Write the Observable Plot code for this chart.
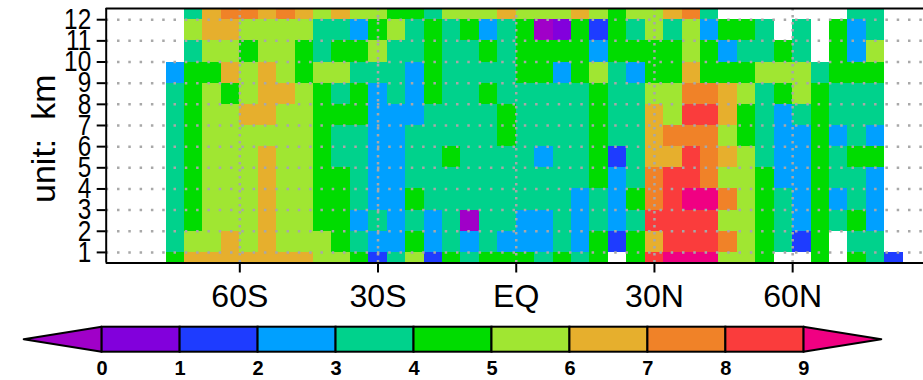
<!DOCTYPE html>
<html><head><meta charset="utf-8">
<script src="https://cdn.jsdelivr.net/npm/d3@7"></script>
<script src="https://cdn.jsdelivr.net/npm/@observablehq/plot@0.6"></script>
<style>
html,body{margin:0;padding:0;background:#fff;}
#chart{position:relative;width:923px;height:380px;overflow:hidden;background:#fff;}
#chart svg{position:absolute;left:0;}
</style></head><body><div id="chart"></div>
<script>
// latitude centres of the 4-degree columns (negative = south)
const lats = [-74,-70,-66,-62,-58,-54,-50,-46,-42,-38,-34,-30,-26,-22,-18,-14,-10,-6,-2,2,
              6,10,14,18,22,26,30,34,38,42,46,50,54,58,62,66,70,74,78,82];
// height centres (km) of the rows
const heights = [0.5,1.5,2.5,3.5,4.5,5.5,6.5,7.5,8.5,9.5,10.5,11.5,12.5];
// values (one row per height, one entry per latitude); null = missing
const values = [
 [4.5,6.5,6.5,6.5,6.5,6.5,6.5,6.5,5.5,5.5, 4.5,1.5,3.5,5.5,1.5,4.5,3.5,4.5,4.5,4.5, 3.5,4.5,3.5,4.5,null,4.5,8.5,9.5,9.5,9.5, 5.5,5.5,4.5,null,null,4.5,null,4.5,3.5,1.5],
 [3.5,5.5,5.5,6.5,5.5,6.5,5.5,5.5,5.5,4.5, 3.5,2.5,2.5,4.5,2.5,3.5,2.5,3.5,2.5,2.5, 2.5,3.5,2.5,4.5,1.5,4.5,6.5,8.5,8.5,8.5, 7.5,5.5,4.5,3.5,1.5,4.5,null,3.5,3.5,null],
 [3.5,4.5,5.5,5.5,5.5,6.5,5.5,5.5,4.5,4.5, 2.5,3.5,2.5,3.5,2.5,3.5,-0.5,3.5,3.5,2.5, 2.5,3.5,2.5,3.5,2.5,3.5,8.5,8.5,8.5,8.5, 5.5,5.5,4.5,3.5,2.5,4.5,3.5,4.5,2.5,null],
 [3.5,4.5,5.5,5.5,5.5,6.5,5.5,5.5,4.5,4.5, 3.5,2.5,2.5,4.5,3.5,3.5,3.5,3.5,3.5,3.5, 3.5,3.5,2.5,3.5,2.5,4.5,7.5,8.5,9.5,9.5, 7.5,5.5,4.5,3.5,2.5,4.5,2.5,3.5,2.5,null],
 [3.5,4.5,5.5,5.5,5.5,6.5,5.5,5.5,4.5,4.5, 3.5,2.5,2.5,3.5,3.5,3.5,3.5,3.5,3.5,3.5, 3.5,3.5,3.5,4.5,2.5,3.5,7.5,8.5,8.5,7.5, 5.5,5.5,4.5,2.5,2.5,4.5,3.5,3.5,2.5,null],
 [3.5,4.5,5.5,5.5,5.5,6.5,5.5,5.5,4.5,3.5, 3.5,2.5,2.5,3.5,3.5,4.5,3.5,3.5,3.5,3.5, 2.5,3.5,3.5,4.5,1.5,3.5,6.5,6.5,8.5,7.5, 6.5,5.5,3.5,2.5,2.5,4.5,3.5,4.5,4.5,null],
 [3.5,4.5,5.5,5.5,5.5,5.5,5.5,5.5,4.5,3.5, 3.5,2.5,2.5,3.5,3.5,3.5,3.5,3.5,4.5,3.5, 3.5,3.5,3.5,4.5,3.5,3.5,6.5,7.5,7.5,7.5, 5.5,4.5,3.5,2.5,2.5,4.5,2.5,3.5,2.5,null],
 [3.5,4.5,5.5,5.5,6.5,6.5,5.5,5.5,4.5,4.5, 4.5,2.5,2.5,2.5,3.5,3.5,3.5,3.5,4.5,3.5, 3.5,3.5,3.5,4.5,3.5,3.5,6.5,5.5,8.5,8.5, 6.5,4.5,3.5,2.5,3.5,4.5,3.5,3.5,3.5,null],
 [3.5,4.5,5.5,4.5,5.5,6.5,6.5,5.5,4.5,3.5, 4.5,2.5,3.5,2.5,4.5,3.5,3.5,4.5,3.5,3.5, 3.5,3.5,3.5,4.5,3.5,3.5,5.5,5.5,7.5,7.5, 6.5,5.5,3.5,4.5,5.5,4.5,3.5,3.5,3.5,null],
 [2.5,4.5,4.5,6.5,5.5,6.5,5.5,4.5,5.5,5.5, 3.5,3.5,3.5,2.5,4.5,3.5,3.5,3.5,3.5,4.5, 4.5,2.5,4.5,5.5,3.5,2.5,4.5,4.5,6.5,4.5, 4.5,4.5,5.5,5.5,5.5,3.5,4.5,4.5,4.5,null],
 [null,3.5,5.5,5.5,4.5,5.5,5.5,4.5,3.5,4.5, 4.5,5.5,3.5,3.5,4.5,3.5,3.5,4.5,3.5,4.5, 4.5,4.5,4.5,2.5,4.5,4.5,4.5,4.5,5.5,4.5, 2.5,3.5,3.5,4.5,3.5,null,4.5,2.5,5.5,null],
 [null,5.5,6.5,6.5,5.5,5.5,5.5,5.5,3.5,3.5, 2.5,4.5,5.5,3.5,4.5,3.5,4.5,2.5,3.5,4.5, -0.5,0.5,4.5,1.5,4.5,3.5,5.5,3.5,5.5,2.5, 4.5,4.5,3.5,null,3.5,null,4.5,2.5,3.5,null],
 [null,3.5,6.5,7.5,7.5,6.5,7.5,6.5,5.5,6.5, 5.5,5.5,4.5,4.5,3.5,5.5,5.5,5.5,6.5,5.5, 5.5,5.5,6.5,5.5,4.5,5.5,5.5,6.5,7.5,3.5, null,null,null,null,null,null,null,3.5,3.5,null]
];
// contour levels and fill colours (first = below 0, last = above 9)
const levels = [0,1,2,3,4,5,6,7,8,9];
const colors = ["#a000c8","#8200dc","#1e3cff","#00a0ff","#00d28c","#00dc00","#a0e632","#e6af2d","#f08228","#fa3c3c","#f00082"];
// axis ticks
const xTicks = [-60,-30,0,30,60];
const xLabels = ["60S","30S","EQ","30N","60N"];
const yTicks = [1,2,3,4,5,6,7,8,9,10,11,12];
const xDomain = [-89, 88.4];
const yDomain = [0.5, 12.53];
const cellHalfWidth = 2, cellHalfHeight = 0.5;

const cells = [];
heights.forEach((h, j) => lats.forEach((lat, i) => {
  const v = values[j][i];
  if (v != null) cells.push({lat, h, v});
}));

const colorScale = {type: "threshold", domain: levels, range: colors};
const font = "'Liberation Sans', Arial, sans-serif";

const main = Plot.plot({
  width: 923, height: 320,
  marginLeft: 105.7, marginRight: 0, marginTop: 8, marginBottom: 57.5,
  x: {domain: xDomain, axis: null},
  y: {domain: yDomain, axis: null},
  color: colorScale,
  style: {fontFamily: font, background: "transparent", color: "black"},
  marks: [
    Plot.rect(cells, {x1: d => d.lat - cellHalfWidth, x2: d => d.lat + cellHalfWidth,
      y1: d => d.h - cellHalfHeight, y2: d => d.h + cellHalfHeight, fill: "v", clip: true, shapeRendering: "crispEdges"}),
    Plot.ruleY(yTicks, {stroke: "#a8a8a8", strokeWidth: 2.5, strokeDasharray: "2.5,8.8"}),
    Plot.ruleX(xTicks, {stroke: "#a8a8a8", strokeWidth: 2.5, strokeDasharray: "2.5,4.5"}),
    Plot.ruleX([xDomain[0]], {stroke: "black", strokeWidth: 2}),
    Plot.ruleY(yDomain, {stroke: "black", strokeWidth: 2}),
    Plot.axisX({ticks: xTicks, tickFormat: d => xLabels[xTicks.indexOf(d)], tickSize: 10, tickPadding: 11,
      fontSize: 32, strokeWidth: 2, label: null}),
    Plot.axisY({ticks: yTicks, tickSize: 9, tickPadding: 6, fontSize: 29, strokeWidth: 2, label: null}),
    Plot.text(["unit:  km"], {frameAnchor: "left", textAnchor: "middle", dx: -62, dy: 3, rotate: -90, fontSize: 34})
  ]
});
main.style.top = "0px";

const boxes = levels.slice(0, -1);
const first = levels[0], last = levels[levels.length - 1];
const leftTri = [{x: first - 1, y1: 0.5, y2: 0.5}, {x: first, y1: 0, y2: 1}];
const rightTri = [{x: last, y1: 0, y2: 1}, {x: last + 1, y1: 0.5, y2: 0.5}];

const bar = Plot.plot({
  width: 923, height: 65,
  marginLeft: 23.7, marginRight: 41.7, marginTop: 11.7, marginBottom: 28.3,
  x: {domain: [first - 1, last + 1], axis: null},
  y: {domain: [0, 1], axis: null},
  color: colorScale,
  style: {fontFamily: font, background: "transparent", color: "black"},
  marks: [
    Plot.areaY(leftTri, {x: "x", y1: "y1", y2: "y2", fill: colors[0], stroke: "black", strokeWidth: 2}),
    Plot.areaY(rightTri, {x: "x", y1: "y1", y2: "y2", fill: colors[colors.length - 1], stroke: "black", strokeWidth: 2}),
    Plot.rect(boxes, {x1: d => d, x2: d => d + 1, y1: 0, y2: 1, fill: d => d + 0.5, stroke: "black", strokeWidth: 2}),
    Plot.axisX({ticks: levels, tickSize: 0, tickPadding: 9, fontSize: 20, fontWeight: "bold", label: null})
  ]
});
bar.style.top = "315px";

const chart = document.getElementById("chart");
chart.appendChild(main);
chart.appendChild(bar);

// condense the y tick labels horizontally (narrow digits, as in the reference)
d3.select(main).selectAll('g[aria-label="y-axis tick label"] text').each(function() {
  const w = this.getComputedTextLength();
  if (w > 0) d3.select(this).attr("textLength", w * 0.84).attr("lengthAdjust", "spacingAndGlyphs");
});
</script></body></html>
